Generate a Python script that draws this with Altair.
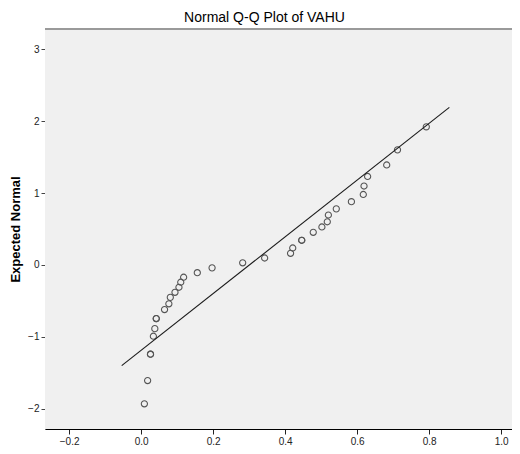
import altair as alt
import pandas as pd

obs_x = [0.009, 0.018, 0.026, 0.026, 0.034, 0.038, 0.042, 0.042, 0.065, 0.077,
         0.081, 0.094, 0.105, 0.110, 0.118, 0.156, 0.197, 0.282, 0.343, 0.415,
         0.421, 0.446, 0.446, 0.478, 0.502, 0.517, 0.520, 0.542, 0.584, 0.617,
         0.619, 0.629, 0.682, 0.712, 0.792]
exp_y = [-1.93, -1.607, -1.24, -1.24, -0.99, -0.885, -0.745, -0.745, -0.62, -0.54,
         -0.45, -0.38, -0.31, -0.24, -0.17, -0.107, -0.04, 0.03, 0.097, 0.162,
         0.236, 0.343, 0.343, 0.454, 0.528, 0.60, 0.694, 0.78, 0.88, 0.98,
         1.097, 1.23, 1.39, 1.60, 1.92]

# Reference normal line endpoints
line_x = [-0.054, 0.856]
line_y = [-1.40, 2.19]

x_ticks = [-0.2, 0.0, 0.2, 0.4, 0.6, 0.8, 1.0]
y_ticks = [-2, -1, 0, 1, 2, 3]

pts = pd.DataFrame({"x": obs_x, "y": exp_y})
ln = pd.DataFrame({"x": line_x, "y": line_y})

FONT = "Liberation Sans"
W, H = 467, 400

xscale = alt.Scale(domain=[-0.267, 1.03], nice=False, zero=False)
yscale = alt.Scale(domain=[-2.28, 3.28], nice=False, zero=False)

xaxis = alt.Axis(values=x_ticks, format=".1f", title=None, grid=False,
                 domainColor="#000000", domainWidth=1.2, tickColor="#222222",
                 tickSize=5, labelFont=FONT, labelFontSize=10,
                 labelColor="#222222", labelPadding=2)
yaxis = alt.Axis(values=y_ticks, format="d", title="Expected Normal", grid=False,
                 domainColor="#555555", domainWidth=1, tickColor="#444444",
                 tickSize=4, labelFont=FONT, labelFontSize=10,
                 labelColor="#222222", labelPadding=2,
                 titleFont=FONT, titleFontSize=13, titleFontWeight="bold",
                 titleColor="#000000", titleX=-30, titleAngle=-90,
                 titleAlign="center", titleBaseline="middle")

background = alt.Chart(pd.DataFrame({"a": [0]})).mark_rect(
    fill="#f0f0f0", stroke=None
).encode(x=alt.value(0), x2=alt.value(W), y=alt.value(0), y2=alt.value(H))

points = alt.Chart(pts).mark_point(
    shape="circle", filled=False, size=38, stroke="#555555", strokeWidth=1.1,
    opacity=1
).encode(
    x=alt.X("x:Q", scale=xscale, axis=xaxis),
    y=alt.Y("y:Q", scale=yscale, axis=yaxis),
)

line = alt.Chart(ln).mark_line(color="#1a1a1a", strokeWidth=1.1).encode(
    x=alt.X("x:Q", scale=xscale),
    y=alt.Y("y:Q", scale=yscale),
)

top_border = alt.Chart(pd.DataFrame({"a": [0]})).mark_rule(
    color="#9a9a9a", strokeWidth=2
).encode(x=alt.value(0), x2=alt.value(W), y=alt.value(0))

chart = alt.layer(background, points, line, top_border).properties(
    width=W, height=H,
    title=alt.TitleParams("Normal Q-Q Plot of VAHU", font=FONT, fontSize=14,
                          fontWeight="normal", color="#000000", anchor="middle",
                          dx=-14, offset=3),
    autosize=alt.AutoSizeParams(type="none"),
    padding={"left": 37, "top": 21, "right": 0, "bottom": 25},
).configure_view(
    stroke=None
).configure(background="#ffffff")

chart.save("out.html", embed_options={"renderer": "svg", "actions": False})
